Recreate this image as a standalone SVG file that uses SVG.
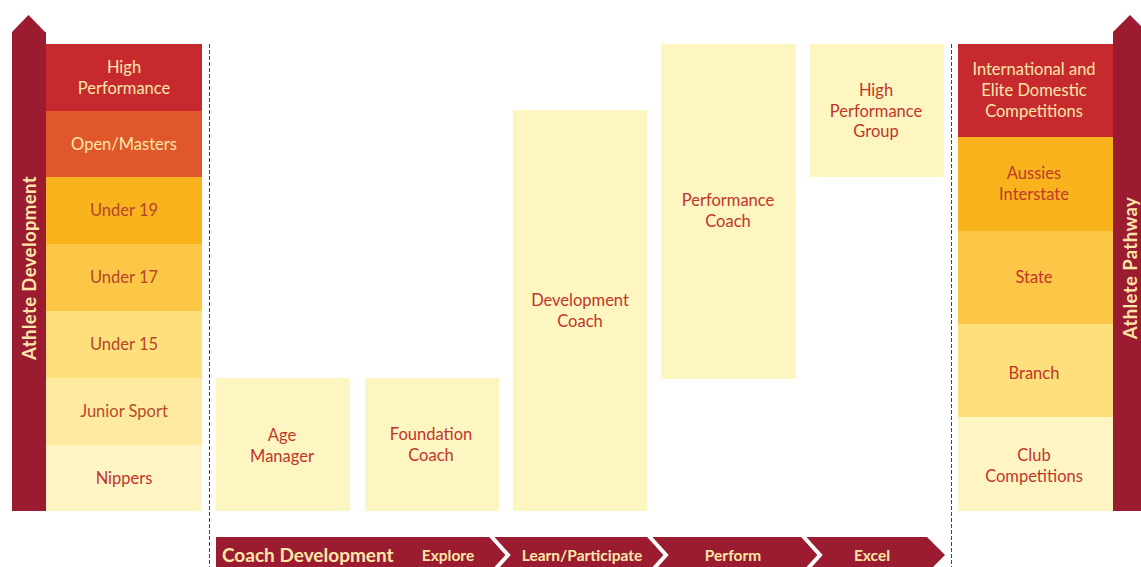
<svg xmlns="http://www.w3.org/2000/svg" width="1141" height="567" viewBox="0 0 1141 567">
<style>
.lbl{font-family:Lato,"Open Sans","Liberation Sans",sans-serif;font-size:16.5px;text-anchor:middle}
.dk{fill:#C2352B}
.lt{fill:#FDE7A8}
.bar{font-family:Lato,"Open Sans","Liberation Sans",sans-serif;font-weight:bold;fill:#FDE7A8}
.side{font-family:Lato,"Open Sans","Liberation Sans",sans-serif;font-weight:bold;font-size:18.5px;letter-spacing:0.4px;fill:#FDE7A8;text-anchor:middle}
.coach{fill:#FEF6C1}
.sep{fill:none;stroke:#ffffff;stroke-width:4}
</style>
<rect width="1141" height="567" fill="#ffffff"/>
<g id="left-arrow">
<polygon points="12,32 28.5,15 45,32 46,32 46,511 12,511" fill="#9B1B30"/>
<text class="side" transform="translate(35.5,268) rotate(-90)">Athlete Development</text>
</g>
<g id="right-arrow">
<polygon points="1113,32 1130,15 1147,32 1147,511 1113,511" fill="#9B1B30"/>
<text class="side" transform="translate(1136.5,268) rotate(-90)">Athlete Pathway</text>
</g>
<g id="high-performance"><rect x="46" y="44" width="156" height="67" fill="#C62A2F"/><text class="lbl lt" x="124" y="73">High</text><text class="lbl lt" x="124" y="94">Performance</text></g>
<g id="open-masters"><rect x="46" y="111" width="156" height="66" fill="#E0572B"/><text class="lbl lt" x="124" y="150">Open/Masters</text></g>
<g id="under19"><rect x="46" y="177" width="156" height="67" fill="#F9B31D"/><text class="lbl" fill="#B5452A" x="124" y="216">Under 19</text></g>
<g id="under17"><rect x="46" y="244" width="156" height="67" fill="#FCC746"/><text class="lbl" fill="#B5452A" x="124" y="283">Under 17</text></g>
<g id="under15"><rect x="46" y="311" width="156" height="67" fill="#FDDF7B"/><text class="lbl" fill="#B5452A" x="124" y="350">Under 15</text></g>
<g id="junior-sport"><rect x="46" y="378" width="156" height="67" fill="#FEEB9F"/><text class="lbl" fill="#B84A2B" x="124" y="417">Junior Sport</text></g>
<g id="nippers"><rect x="46" y="445" width="156" height="66" fill="#FEF5C3"/><text class="lbl dk" x="124" y="484">Nippers</text></g>

<g id="intl"><rect x="958" y="44" width="155" height="93" fill="#C62A2F"/><text class="lbl lt" x="1034" y="75">International and</text><text class="lbl lt" x="1034" y="96">Elite Domestic</text><text class="lbl lt" x="1034" y="117">Competitions</text></g>
<g id="aussies"><rect x="958" y="137" width="155" height="94" fill="#F9B31D"/><text class="lbl" fill="#C0392B" x="1034" y="179">Aussies</text><text class="lbl" fill="#C0392B" x="1034" y="200">Interstate</text></g>
<g id="state"><rect x="958" y="231" width="155" height="93" fill="#FCC746"/><text class="lbl dk" x="1034" y="283">State</text></g>
<g id="branch"><rect x="958" y="324" width="155" height="93" fill="#FDDF7B"/><text class="lbl dk" x="1034" y="379">Branch</text></g>
<g id="club"><rect x="958" y="417" width="155" height="94" fill="#FEF5C3"/><text class="lbl dk" x="1034" y="461">Club</text><text class="lbl dk" x="1034" y="482">Competitions</text></g>

<g id="age-manager"><rect class="coach" x="216" y="378" width="134" height="133"/><text class="lbl dk" x="282" y="441">Age</text><text class="lbl dk" x="282" y="462">Manager</text></g>
<g id="foundation-coach"><rect class="coach" x="365" y="378" width="134" height="133"/><text class="lbl dk" x="431" y="440">Foundation</text><text class="lbl dk" x="431" y="461">Coach</text></g>
<g id="development-coach"><rect class="coach" x="513" y="110" width="134" height="401"/><text class="lbl dk" x="580" y="306">Development</text><text class="lbl dk" x="580" y="327">Coach</text></g>
<g id="performance-coach"><rect class="coach" x="661" y="44" width="135" height="335"/><text class="lbl dk" x="728" y="206">Performance</text><text class="lbl dk" x="728" y="227">Coach</text></g>
<g id="hp-group"><rect class="coach" x="810" y="44" width="134" height="133"/><text class="lbl dk" x="876" y="96">High</text><text class="lbl dk" x="876" y="117">Performance</text><text class="lbl dk" x="876" y="137">Group</text></g>

<g id="connectors">
<line x1="209.5" y1="44" x2="209.5" y2="567" stroke="#9B1B30" stroke-width="1" stroke-dasharray="4,2"/>
<line x1="951.5" y1="44" x2="951.5" y2="567" stroke="#9B1B30" stroke-width="1" stroke-dasharray="4,2"/>
</g>

<g id="coach-development-bar">
<polygon points="216,537 927,537 945,555 927,573 216,573" fill="#9B1B30"/>
<polyline class="sep" points="490,535 508,555 490,575"/>
<polyline class="sep" points="648,535 666,555 648,575"/>
<polyline class="sep" points="802,535 820,555 802,575"/>
<text class="bar" x="222" y="562" font-size="19">Coach Development</text>
<text class="bar" x="448" y="561" font-size="15.5" text-anchor="middle">Explore</text>
<text class="bar" x="582" y="561" font-size="15.5" text-anchor="middle">Learn/Participate</text>
<text class="bar" x="733" y="561" font-size="15.5" text-anchor="middle">Perform</text>
<text class="bar" x="872" y="561" font-size="15.5" text-anchor="middle">Excel</text>
</g>
</svg>
